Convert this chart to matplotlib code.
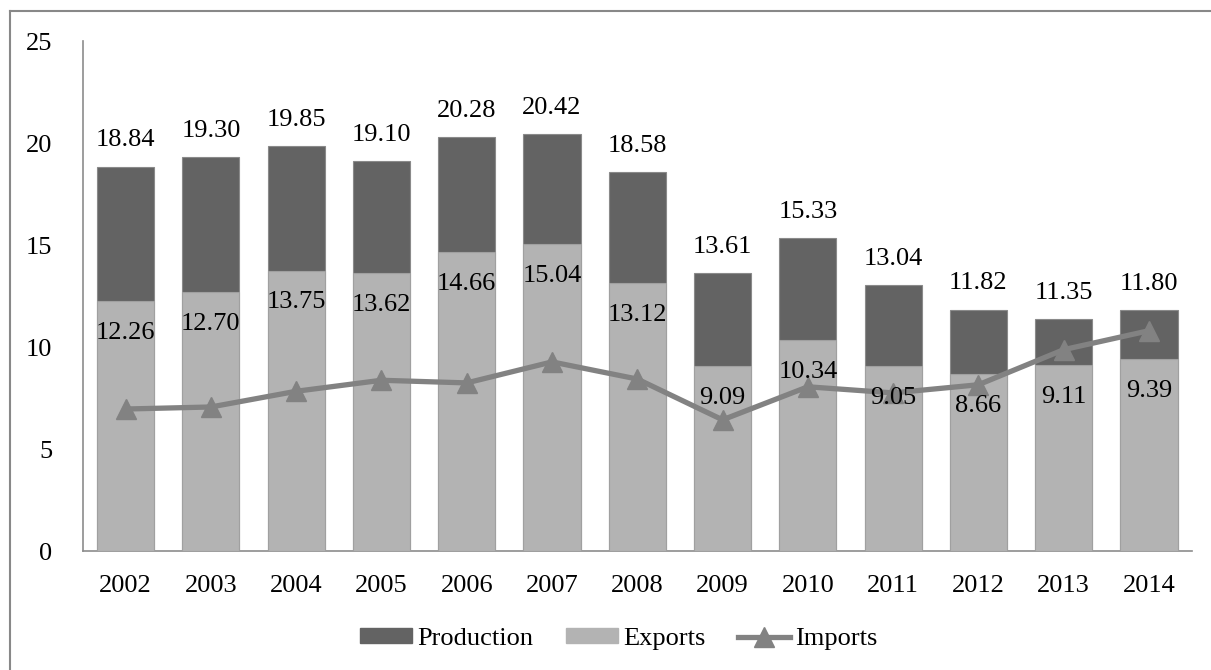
import matplotlib
matplotlib.use('Agg')
import matplotlib.pyplot as plt
from matplotlib.lines import Line2D
from matplotlib.patches import Patch
import numpy as np

years = ['2002', '2003', '2004', '2005', '2006', '2007', '2008',
         '2009', '2010', '2011', '2012', '2013', '2014']
production = [18.84, 19.30, 19.85, 19.10, 20.28, 20.42, 18.58,
              13.61, 15.33, 13.04, 11.82, 11.35, 11.80]
exports = [12.26, 12.70, 13.75, 13.62, 14.66, 15.04, 13.12,
           9.09, 10.34, 9.05, 8.66, 9.11, 9.39]
imports = [6.96, 7.06, 7.83, 8.37, 8.24, 9.27, 8.43,
           6.43, 8.05, 7.75, 8.15, 9.87, 10.8]

dark = '#636363'
light = '#b3b3b3'
line_col = '#828282'
axis_col = '#8c8c8c'

plt.rcParams['font.family'] = ['Liberation Serif', 'DejaVu Serif']
plt.rcParams['font.size'] = 19

fig = plt.figure(figsize=(12.11, 6.70), dpi=100)
ax = fig.add_axes([0.0685, 0.1776, 0.9155, 0.7612])

x = np.arange(len(years))
w = 0.67
ax.bar(x, production, width=w, color=dark, edgecolor='#8a8a8a', linewidth=0.8, zorder=2)
ax.bar(x, exports, width=w, color=light, edgecolor='#a0a0a0', linewidth=0.8, zorder=3)
ax.plot(x, imports, color=line_col, linewidth=3.8, marker='^', markersize=15,
        markerfacecolor=line_col, markeredgecolor=line_col, zorder=4)

for xi, p in zip(x, production):
    ax.annotate(f'{p:.2f}', (xi, p), xytext=(0, 19), textcoords='offset points',
                ha='center', va='center', zorder=5)
for xi, e in zip(x, exports):
    ax.annotate(f'{e:.2f}', (xi, e), xytext=(0, -23), textcoords='offset points',
                ha='center', va='center', zorder=5)

ax.set_xlim(-0.5, len(years) - 0.5)
ax.set_ylim(0, 25)
ax.set_yticks([0, 5, 10, 15, 20, 25])
ax.set_xticks(x)
ax.set_xticklabels(years)
ax.tick_params(axis='y', length=0, pad=22)
ax.tick_params(axis='x', length=0, pad=17)

for side in ['top', 'right']:
    ax.spines[side].set_visible(False)
for side in ['left', 'bottom']:
    ax.spines[side].set_color(axis_col)
    ax.spines[side].set_linewidth(1.2)

handles = [
    Patch(facecolor=dark, edgecolor=dark),
    Patch(facecolor=light, edgecolor=light),
    Line2D([0], [0], color=line_col, linewidth=3.8, marker='^', markersize=15),
]
fig.legend(handles, ['Production', 'Exports', 'Imports'], loc='center',
           bbox_to_anchor=(0.511, 0.046), ncol=3, frameon=False,
           handlelength=1.95, handleheight=0.5, handletextpad=0.2,
           columnspacing=1.25)

# outer chart frame (top and left edges)
fig.add_artist(Line2D([10 / 1211, 1.0], [1 - 11 / 670, 1 - 11 / 670],
                      transform=fig.transFigure, color='#888888', linewidth=1.5))
fig.add_artist(Line2D([10 / 1211, 10 / 1211], [0, 1 - 11 / 670],
                      transform=fig.transFigure, color='#888888', linewidth=1.5))

fig.savefig('out.png', dpi=100)
